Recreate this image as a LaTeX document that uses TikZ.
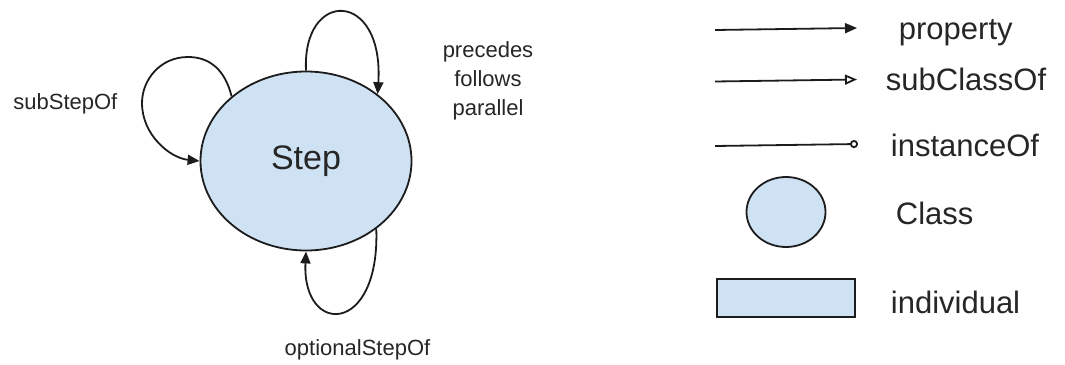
\documentclass[tikz,border=0pt]{standalone}
\usepackage{fontspec}
\setmainfont{Liberation Sans}
\usetikzlibrary{arrows.meta,shapes.geometric}
\definecolor{classfill}{HTML}{CFE2F3}
\definecolor{inkline}{HTML}{1C1C1C}
\definecolor{inktext}{HTML}{262626}
\begin{document}
\begin{tikzpicture}[x=1pt,y=-1pt,
  line width=1.8pt,
  draw=inkline,
  classnode/.style={ellipse, draw=inkline, fill=classfill, line width=1.8pt, inner sep=0pt},
  indivnode/.style={rectangle, draw=inkline, fill=classfill, line width=1.8pt, inner sep=0pt},
  small/.style={inner sep=0pt, text=inktext, font=\fontsize{22}{28.7}\selectfont},
  legend/.style={inner sep=0pt, text=inktext, font=\fontsize{31}{36}\selectfont, anchor=base west},
  prop/.style={-{Triangle[length=12pt,width=10pt]}},
  subcls/.style={-{Triangle[open,length=12pt,width=10pt]}},
  inst/.style={-{Circle[open,length=8pt]}},
]
\useasboundingbox (0,0) rectangle (1065,364);

% the Step class with its self-relations
\node[classnode, minimum width=211pt, minimum height=179pt] (Step) at (306,161)
  {\fontsize{34}{40}\selectfont\color{inktext}Step};

\draw[prop] (Step.139) .. controls (225,70) and (210,57) .. (188,57)
  .. controls (160,57) and (142,80) .. (142,103)
  .. controls (142,135) and (170,158) .. (Step.west);
\draw[prop] (Step.90) .. controls (302,-11) and (384,-11) .. (Step.43);
\draw[prop] (Step.-44) .. controls (380,336) and (302,336) .. (Step.south);

\node[small, anchor=base west] (lsub) at (12.5,109.5) {subStepOf};
\node[small, anchor=north, align=center] (lprec) at (488,41) {precedes\\follows\\parallel};
\node[small, anchor=base] (lopt) at (357.5,355) {optionalStepOf};

% legend
\coordinate (pa) at (715,30);   \coordinate (pb) at (857,28);
\coordinate (sa) at (715,81.5); \coordinate (sb) at (857,79.5);
\coordinate (ia) at (715,146);  \coordinate (ib) at (858,144);
\draw[prop] (pa) -- (pb);
\draw[subcls] (sa) -- (sb);
\draw[inst] (ia) -- (ib);

\node[classnode, minimum width=79pt, minimum height=70pt] (cls) at (786,212) {};
\node[indivnode, minimum width=138pt, minimum height=38pt] (ind) at (786,298) {};

\node[legend] (tprop) at (898,39.5) {property};
\node[legend] (tsub) at (885,90.5) {subClassOf};
\node[legend] (tinst) at (890,156.5) {instanceOf};
\node[legend] (tcls) at (895,224) {Class};
\node[legend] (tind) at (890,313) {individual};
\end{tikzpicture}
\end{document}
